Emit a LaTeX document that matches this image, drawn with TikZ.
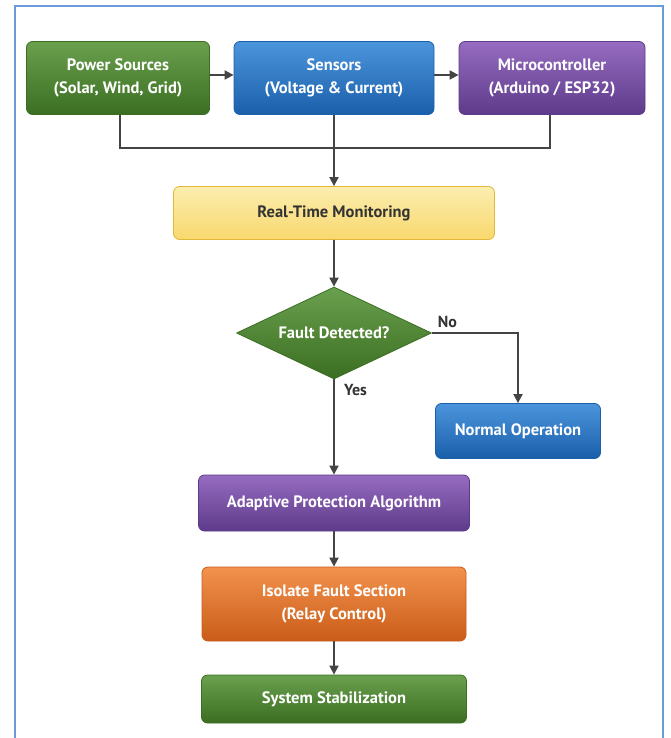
\documentclass[tikz,border=0pt]{standalone}
\usepackage{fontspec}
\setmainfont{PT Sans}
\usetikzlibrary{arrows.meta,shapes.geometric}

\definecolor{grn}{HTML}{4F8F2E}
\definecolor{grnD}{HTML}{3B6E22}
\definecolor{blu}{HTML}{2C82D6}
\definecolor{bluD}{HTML}{1A5FAA}
\definecolor{pur}{HTML}{8352B5}
\definecolor{purD}{HTML}{5E3A8A}
\definecolor{yel}{HTML}{F8E27A}
\definecolor{yelD}{HTML}{E2B83A}
\definecolor{org}{HTML}{F07F2E}
\definecolor{orgD}{HTML}{C95C18}
\definecolor{frm}{HTML}{6A9AD8}
\definecolor{arr}{HTML}{444444}

\tikzset{
  box/.style={draw, line width=0.8pt, rounded corners=6pt, align=center,
    font=\bfseries\fontsize{16.5}{23}\selectfont, text=white, inner sep=0pt},
  greenbox/.style={box, draw=grnD, top color=grn!85!white, bottom color=grnD},
  bluebox/.style={box, draw=bluD, top color=blu!85!white, bottom color=bluD},
  purplebox/.style={box, draw=purD, top color=pur!85!white, bottom color=purD},
  orangebox/.style={box, draw=orgD, top color=org!85!white, bottom color=orgD},
  yellowbox/.style={box, draw=yelD, top color=yel!60!white, bottom color=yel!90!orange, text=black!80},
  flow/.style={draw=arr, line width=1.8pt, -{Triangle[length=9pt,width=9pt]}},
  link/.style={draw=arr, line width=1.8pt},
  lbl/.style={font=\bfseries\fontsize{16}{18}\selectfont, text=black!80}
}

\begin{document}
\begin{tikzpicture}[x=1pt,y=-1pt]
  \useasboundingbox (0,0) rectangle (670,738);
  \fill[white] (0,0) rectangle (670,738);
  \draw[frm, line width=2pt] (15,740) -- (15,6) -- (663,6) -- (663,740);

  \draw
    (118,78) node[greenbox, minimum width=183pt, minimum height=73pt] (power){Power Sources\\(Solar, Wind, Grid)}
    (334,78) node[bluebox, minimum width=200pt, minimum height=73pt] (sensors){Sensors\\(Voltage \& Current)}
    (552,78) node[purplebox, minimum width=186pt, minimum height=73pt] (mcu){Microcontroller\\(Arduino / ESP32)}
    (334,213) node[yellowbox, minimum width=321pt, minimum height=53pt] (monitor){Real-Time Monitoring}
    (334,333) node[diamond, aspect=2.12, draw=grnD, line width=0.8pt, top color=grn!85!white, bottom color=grnD,
      minimum width=195pt, minimum height=92pt, inner sep=0pt, text=white,
      font=\bfseries\fontsize{16.5}{18}\selectfont] (fault){Fault Detected?}
    (518,431) node[bluebox, minimum width=165pt, minimum height=55pt] (normal){Normal Operation}
    (334,503) node[purplebox, minimum width=271pt, minimum height=56pt] (adapt){Adaptive Protection Algorithm}
    (334,604) node[orangebox, minimum width=264pt, minimum height=74pt] (isolate){Isolate Fault Section\\(Relay Control)}
    (334,699) node[greenbox, minimum width=265pt, minimum height=48pt] (stable){System Stabilization};

  \coordinate (join) at (334,148);
  \begin{scope}
    \path[flow] (power.east |- 0,75) -- (sensors.west |- 0,75);
    \path[flow] (sensors.east |- 0,75) -- (mcu.west |- 0,75);
    \path[link] (power.south -| 120,0) |- (join);
    \path[link] (mcu.south -| 550,0) |- (join);
    \path[flow] (sensors.south) -- (monitor.north);
    \path[flow] (monitor.south) -- (fault.north);
    \path[flow] (fault.east) -| node[lbl, pos=0.09, above=1pt] {No} (normal.north);
    \path[flow] (fault.south) -- node[lbl, pos=0.11, right=6pt] {Yes} (adapt.north);
    \path[flow] (adapt.south) -- (isolate.north);
    \path[flow] (isolate.south) -- (stable.north);
  \end{scope}
\end{tikzpicture}
\end{document}
